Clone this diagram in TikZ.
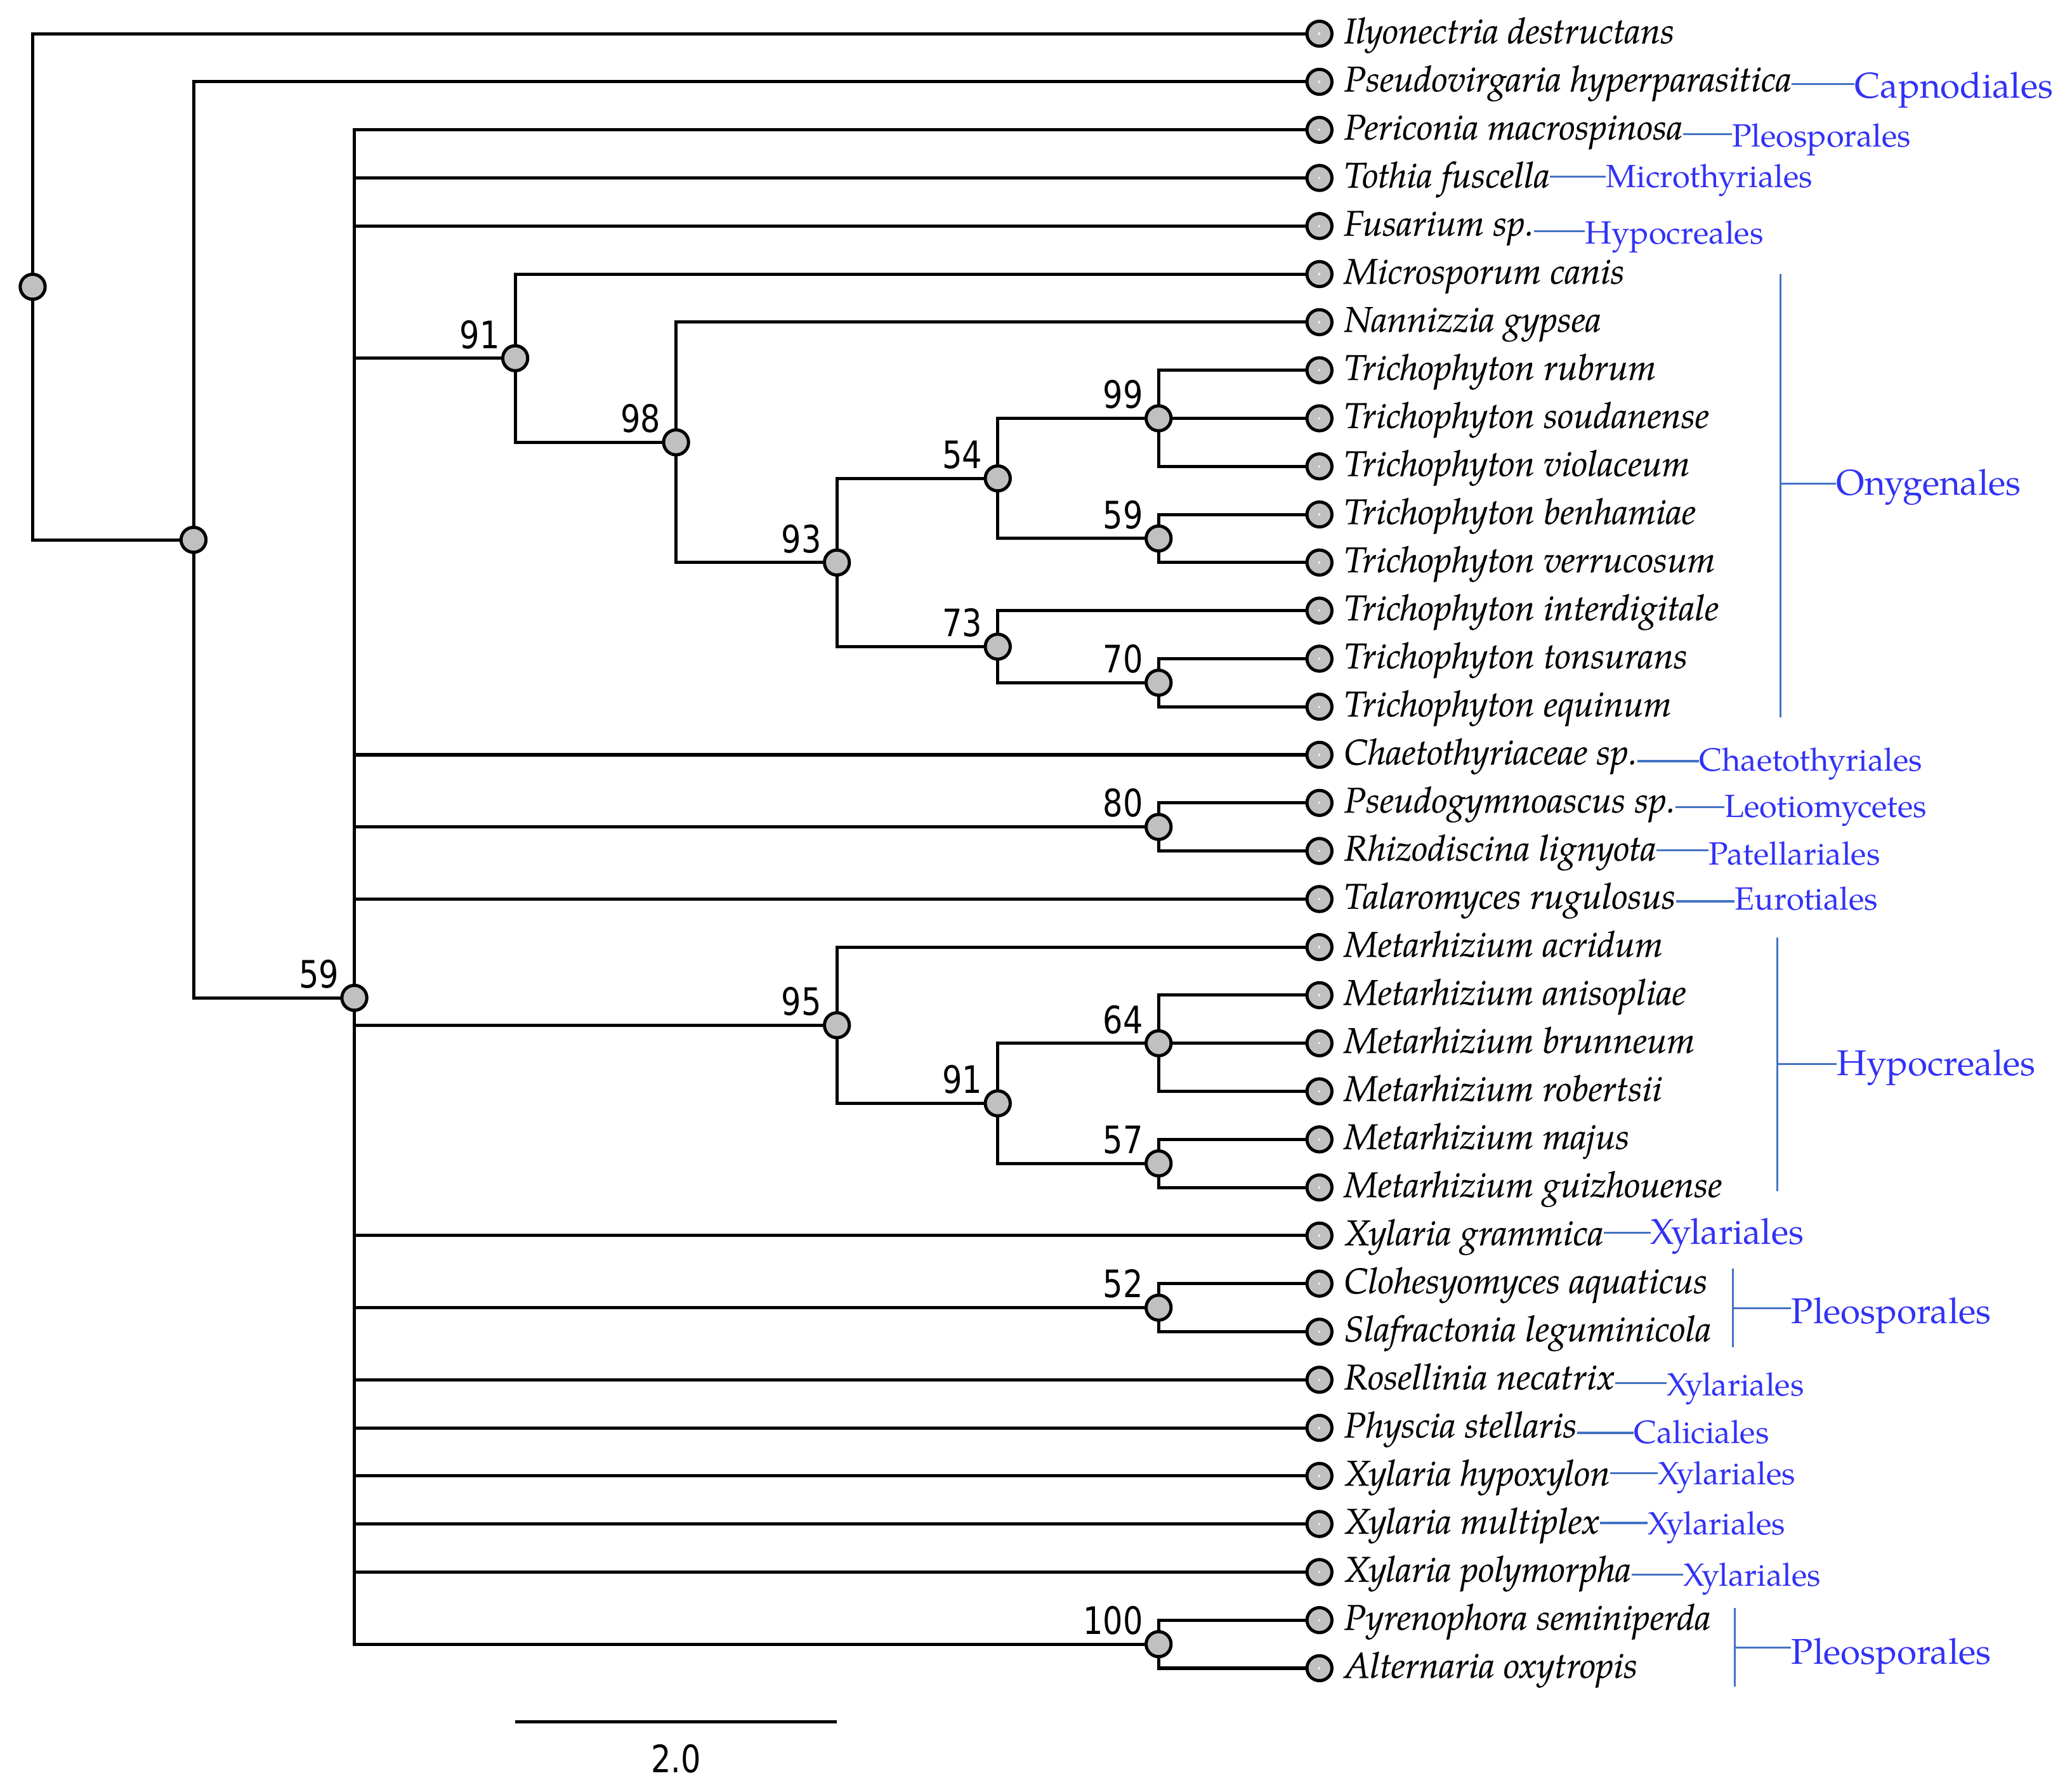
\documentclass[tikz,border=0pt]{standalone}
\usepackage{fontspec}
\newfontfamily\palfont{TeX Gyre Pagella}
\newfontfamily\taxfont{TeX Gyre Pagella}[ItalicFeatures={FakeBold=0.3}]
\newfontfamily\numfont{DejaVu Sans Condensed}[FakeStretch=0.92]
\definecolor{nodegray}{RGB}{192,192,192}
\definecolor{ordtext}{RGB}{50,50,245}
\definecolor{ordline}{RGB}{68,114,196}
\pgfdeclarelayer{bg}
\pgfsetlayers{bg,main}
\newcommand\rowy[1]{25.4+36.2*(#1)}
\newcommand\levx[1]{24.6+121.1*(#1)}
\begin{document}
\begin{tikzpicture}[x=1pt,y=-1pt,
  inode/.style={circle,draw=black,fill=nodegray,line width=2.4pt,minimum size=18.8pt,inner sep=0pt},
  leaf/.style={inode,path picture={\fill[gray!12] ([xshift=-0.8pt,yshift=-0.8pt]path picture bounding box.center) rectangle +(1.6pt,1.6pt);}},
  branch/.style={line width=2.4pt,line join=miter},
  taxon/.style={anchor=base west,inner sep=0pt,font=\taxfont\itshape\fontsize{27}{32}\selectfont},
  ordbig/.style={anchor=base west,inner sep=0pt,text=ordtext,font=\palfont\fontsize{27}{32}\selectfont},
  ordsmall/.style={anchor=base west,inner sep=0pt,text=ordtext,font=\palfont\fontsize{24.2}{28}\selectfont},
  olink/.style={draw=ordline,line width=1.5pt},
  suplab/.style={anchor=base east,inner sep=0pt,font=\numfont\fontsize{28.5}{32}\selectfont}]
\useasboundingbox (0,0) rectangle (1560,1347.9);

% internal nodes
\node[inode] (root) at ({\levx{0}},{\rowy{5.2637}}) {};
\node[inode] (nA)   at ({\levx{1}},{\rowy{10.5273}}) {};
\node[inode] (n59)  at ({\levx{2}},{\rowy{20.0547}}) {};
\node[inode] (n91)  at ({\levx{3}},{\rowy{6.75}}) {};
\node[inode] (n98)  at ({\levx{4}},{\rowy{8.5}}) {};
\node[inode] (n93)  at ({\levx{5}},{\rowy{11}}) {};
\node[inode] (n54)  at ({\levx{6}},{\rowy{9.25}}) {};
\node[inode] (n73)  at ({\levx{6}},{\rowy{12.75}}) {};
\node[inode] (n99)  at ({\levx{7}},{\rowy{8}}) {};
\node[inode] (n59b) at ({\levx{7}},{\rowy{10.5}}) {};
\node[inode] (n70)  at ({\levx{7}},{\rowy{13.5}}) {};
\node[inode] (n80)  at ({\levx{7}},{\rowy{16.5}}) {};
\node[inode] (n95)  at ({\levx{5}},{\rowy{20.625}}) {};
\node[inode] (n91b) at ({\levx{6}},{\rowy{22.25}}) {};
\node[inode] (n64)  at ({\levx{7}},{\rowy{21}}) {};
\node[inode] (n57)  at ({\levx{7}},{\rowy{23.5}}) {};
\node[inode] (n52)  at ({\levx{7}},{\rowy{26.5}}) {};
\node[inode] (n100) at ({\levx{7}},{\rowy{33.5}}) {};

% leaves and taxon names
\foreach \k/\nm in {0/{Ilyonectria destructans},1/{Pseudovirgaria hyperparasitica},2/{Periconia macrospinosa},
  3/{Tothia fuscella},4/{Fusarium sp.},5/{Microsporum canis},6/{Nannizzia gypsea},7/{Trichophyton rubrum},
  8/{Trichophyton soudanense},9/{Trichophyton violaceum},10/{Trichophyton benhamiae},11/{Trichophyton verrucosum},
  12/{Trichophyton interdigitale},13/{Trichophyton tonsurans},14/{Trichophyton equinum},15/{Chaetothyriaceae sp.},
  16/{Pseudogymnoascus sp.},17/{Rhizodiscina lignyota},18/{Talaromyces rugulosus},19/{Metarhizium acridum},
  20/{Metarhizium anisopliae},21/{Metarhizium brunneum},22/{Metarhizium robertsii},23/{Metarhizium majus},
  24/{Metarhizium guizhouense},25/{Xylaria grammica},26/{Clohesyomyces aquaticus},27/{Slafractonia leguminicola},
  28/{Rosellinia necatrix},29/{Physcia stellaris},30/{Xylaria hypoxylon},31/{Xylaria multiplex},
  32/{Xylaria polymorpha},33/{Pyrenophora seminiperda},34/{Alternaria oxytropis}}{
  \node[leaf] (l\k) at ({\levx{8}},{\rowy{\k}}) {};
  \node[taxon] (t\k) at (1011.7,{\rowy{\k}+7.3}) {\nm};
}

% branches
\begin{pgfonlayer}{bg}
\draw[branch] (root.center) |- (l0.center);
\draw[branch] (root.center) |- (nA.center);
\draw[branch] (nA.center) |- (l1.center);
\draw[branch] (nA.center) |- (n59.center);
\foreach \c in {l2,l3,l4,n91,l15,n80,l18,n95,l25,n52,l28,l29,l30,l31,l32,n100}
  \draw[branch] (n59.center) |- (\c.center);
\foreach \p/\c in {n91/l5,n91/n98,n98/l6,n98/n93,n93/n54,n93/n73,n54/n99,n54/n59b,
  n99/l7,n99/l8,n99/l9,n59b/l10,n59b/l11,n73/l12,n73/n70,n70/l13,n70/l14,n80/l16,n80/l17,
  n95/l19,n95/n91b,n91b/n64,n91b/n57,n64/l20,n64/l21,n64/l22,n57/l23,n57/l24,
  n52/l26,n52/l27,n100/l33,n100/l34}
  \draw[branch] (\p.center) |- (\c.center);
\end{pgfonlayer}

% support values
\foreach \n/\v in {n59/59,n91/91,n98/98,n93/93,n54/54,n73/73,n99/99,n59b/59,n70/70,n80/80,
  n95/95,n91b/91,n64/64,n57/57,n52/52,n100/100}
  \node[suplab] (s\n) at ([xshift=-11.5pt,yshift=7.5pt]\n.center) {\v};

% order labels with leader lines
\foreach \k/\xs/\ly/\bl/\st/\tx in {1/1396.3/63.1/74.0/ordbig/Capnodiales,
  2/1303.8/101.1/110.6/ordsmall/Pleosporales,
  3/1209.0/133.1/141.0/ordsmall/Microthyriales,
  4/1193.2/174.2/183.7/ordsmall/Hypocreales,
  15/1279.1/573.2/580.7/ordsmall/Chaetothyriales,
  16/1298.3/607.9/615.4/ordsmall/Leotiomycetes,
  17/1286.4/640.4/651.2/ordsmall/Patellariales,
  18/1306.0/678.7/685.4/ordsmall/Eurotiales,
  25/1242.6/928.4/936.7/ordbig/Xylariales,
  28/1254.7/1041.7/1051.0/ordsmall/Xylariales,
  29/1229.8/1079.0/1087.0/ordsmall/Caliciales,
  30/1248.3/1109.3/1118.0/ordsmall/Xylariales,
  31/1240.5/1146.8/1155.6/ordsmall/Xylariales,
  32/1267.3/1185.7/1194.4/ordsmall/Xylariales}{
  \node[\st] (o\k) at (\xs,\bl) {\tx};
  \coordinate (c\k) at (\xs,\ly);
  \draw[olink] (t\k.east |- c\k) -- (c\k);
}

% brackets
\foreach \b/\bx/\ytop/\ybot/\ym/\lx/\bl/\tx in {ony/1340.3/206.2/540.2/364.3/1382.5/372.6/Onygenales,
  hyp/1338.2/706.0/896.9/801.3/1382.6/809.9/Hypocreales,
  plA/1304.7/955.5/1014.6/985.3/1348.6/996.6/Pleosporales,
  plB/1306.2/1210.7/1270.1/1240.7/1348.6/1253.2/Pleosporales}{
  \coordinate (\b top) at (\bx,\ytop);
  \coordinate (\b bot) at (\bx,\ybot);
  \coordinate (\b mid) at (\bx,\ym);
  \node[ordbig] (\b lab) at (\lx,\bl) {\tx};
  \draw[olink] (\b top) -- (\b bot);
  \draw[olink] (\b mid) -- (\lx,\ym);
}

% scale bar
\coordinate (sbL) at ({\levx{3}},1296.6);
\coordinate (sbR) at ({\levx{5}},1296.6);
\draw[branch] (sbL) -- (sbR);
\node[suplab,anchor=base] (sbt) at ({\levx{4}},1335) {2.0};
\end{tikzpicture}
\end{document}
